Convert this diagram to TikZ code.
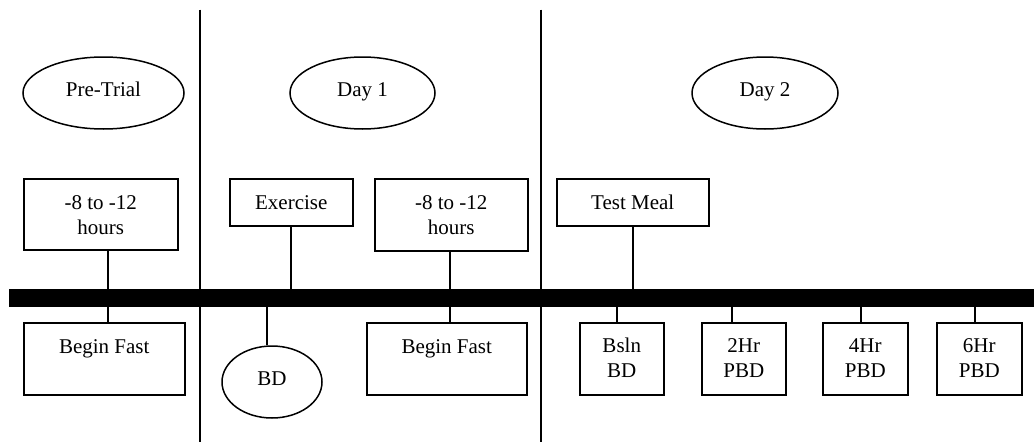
\documentclass[tikz,border=0pt]{standalone}
\usepackage{fontspec}
\setmainfont{Liberation Serif}
\usetikzlibrary{shapes.geometric}
\begin{document}
\begin{tikzpicture}[x=1pt,y=-1pt,
  every node/.style={font=\fontsize{21}{25}\selectfont},
  thinline/.style={line width=1.5pt},
  tbox/.style={draw, line width=1.5pt, inner sep=0pt, anchor=north west, align=center, text height=31pt},
  tboxtwo/.style={tbox, text height=56pt},
  oval/.style={draw, ellipse, line width=1.5pt, inner sep=0pt, text height=14pt, text depth=7pt},
  bar/.style={fill=black, inner sep=0pt, anchor=north west}]
\useasboundingbox (0,0) rectangle (1034,442);
% phase separators
\coordinate (s1t) at (200,9.5); \coordinate (s1b) at (200,442);
\coordinate (s2t) at (541,9.5); \coordinate (s2b) at (541,442);
\draw[thinline] (s1t) -- (s1b);
\draw[thinline] (s2t) -- (s2b);
% phase labels
\node[oval, minimum width=161pt, minimum height=72pt] (pre) at (103.5,93) {Pre-Trial};
\node[oval, minimum width=145pt, minimum height=72pt] (d1) at (362.5,93) {Day 1};
\node[oval, minimum width=146pt, minimum height=72pt] (d2) at (765,93) {Day 2};
% timeline bar
\node[bar, minimum width=1025pt, minimum height=18pt] (bar) at (9,289) {};
% upper boxes
\node[tboxtwo, minimum width=154pt, text depth=15pt] (a) at (23,178) {-8 to -12\\hours};
\node[tbox, minimum width=123pt, text depth=16pt] (ex) at (229,178) {Exercise};
\node[tboxtwo, minimum width=153pt, text depth=16pt] (b) at (374,178) {-8 to -12\\hours};
\node[tbox, minimum width=152pt, text depth=16pt] (tm) at (556,178) {Test Meal};
% lower boxes
\node[tbox, minimum width=161pt, text depth=41pt] (bf1) at (23,322) {Begin Fast};
\node[oval, minimum width=100pt, minimum height=72pt] (bd) at (272,382) {BD};
\node[tbox, minimum width=160pt, text depth=41pt] (bf2) at (366,322) {Begin Fast};
\node[tboxtwo, text height=55pt, minimum width=84pt, text depth=17pt] (bs) at (579,322) {Bsln\\BD};
\node[tboxtwo, text height=55pt, minimum width=84pt, text depth=17pt] (h2) at (701,322) {2Hr\\PBD};
\node[tboxtwo, text height=55pt, minimum width=85pt, text depth=17pt] (h4) at (822,322) {4Hr\\PBD};
\node[tboxtwo, text height=55pt, minimum width=85pt, text depth=17pt] (h6) at (936,322) {6Hr\\PBD};
% connector columns
\coordinate (xa) at (108,0);
\coordinate (xex) at (291,0);
\coordinate (xbd) at (267,0);
\coordinate (xb) at (450,0);
\coordinate (xtm) at (633,0);
\coordinate (xbs) at (617,0);
\coordinate (xh2) at (732,0);
\coordinate (xh4) at (861,0);
\coordinate (xh6) at (975,0);
% connectors
\draw[thinline] (a.south -| xa) -- (bar.north -| xa);
\draw[thinline] (bar.south -| xa) -- (bf1.north -| xa);
\draw[thinline] (ex.south -| xex) -- (bar.north -| xex);
\draw[thinline] (bar.south -| xbd) -- (bd.north -| xbd);
\draw[thinline] (b.south -| xb) -- (bar.north -| xb);
\draw[thinline] (bar.south -| xb) -- (bf2.north -| xb);
\draw[thinline] (tm.south -| xtm) -- (bar.north -| xtm);
\draw[thinline] (bar.south -| xbs) -- (bs.north -| xbs);
\draw[thinline] (bar.south -| xh2) -- (h2.north -| xh2);
\draw[thinline] (bar.south -| xh4) -- (h4.north -| xh4);
\draw[thinline] (bar.south -| xh6) -- (h6.north -| xh6);
\end{tikzpicture}
\end{document}
